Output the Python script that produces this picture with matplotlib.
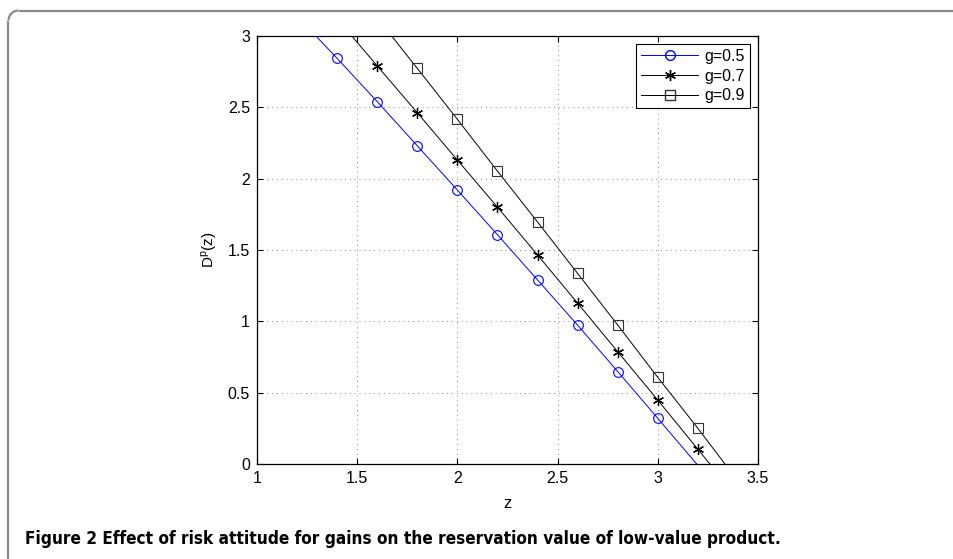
import matplotlib
matplotlib.use("Agg")
import matplotlib.pyplot as plt
from matplotlib.patches import Arc
from matplotlib.lines import Line2D

# ---- data ----
z_marks_05 = [1.4, 1.6, 1.8, 2.0, 2.2, 2.4, 2.6, 2.8, 3.0]
d_marks_05 = [2.843, 2.540, 2.230, 1.920, 1.607, 1.290, 0.973, 0.648, 0.320]
z_line_05 = [1.294, 1.4, 1.6, 1.8, 2.0, 2.2, 2.4, 2.6, 2.8, 3.0, 3.194]
d_line_05 = [3.0, 2.843, 2.540, 2.230, 1.920, 1.607, 1.290, 0.973, 0.648, 0.320, 0.0]

z_marks_07 = [1.6, 1.8, 2.0, 2.2, 2.4, 2.6, 2.8, 3.0, 3.2]
d_marks_07 = [2.790, 2.462, 2.130, 1.800, 1.465, 1.127, 0.787, 0.448, 0.103]
z_line_07 = [1.473, 1.6, 1.8, 2.0, 2.2, 2.4, 2.6, 2.8, 3.0, 3.2, 3.260]
d_line_07 = [3.0, 2.790, 2.462, 2.130, 1.800, 1.465, 1.127, 0.787, 0.448, 0.103, 0.0]

z_marks_09 = [1.8, 2.0, 2.2, 2.4, 2.6, 2.8, 3.0, 3.2]
d_marks_09 = [2.773, 2.416, 2.053, 1.696, 1.336, 0.974, 0.607, 0.250]
z_line_09 = [1.672, 1.8, 2.0, 2.2, 2.4, 2.6, 2.8, 3.0, 3.2, 3.335]
d_line_09 = [3.0, 2.773, 2.416, 2.053, 1.696, 1.336, 0.974, 0.607, 0.250, 0.0]

labels = ["g=0.5", "g=0.7", "g=0.9"]
x_ticks = [1, 1.5, 2, 2.5, 3, 3.5]
y_ticks = [0, 0.5, 1, 1.5, 2, 2.5, 3]
x_label = "z"
y_label = r"D$^{\mathrm{p}}$(z)"
caption = "Figure 2 Effect of risk attitude for gains on the reservation value of low-value product."

plt.rcParams['font.family'] = ['Liberation Sans', 'DejaVu Sans']
plt.rcParams['mathtext.fontset'] = 'custom'
plt.rcParams['mathtext.rm'] = 'Liberation Sans'

W, H = 954, 559
fig = plt.figure(figsize=(W / 100, H / 100), dpi=100)

# frame: left edge and top edge with rounded top-left corner (pixel -> figure fraction)
r = 10
x0, ytop = 8.5, H - 10.5
fc = "#8a8a8a"
fig.add_artist(Line2D([x0 / W, x0 / W], [0, (ytop - r) / H], color=fc, lw=1.6,
                      transform=fig.transFigure, solid_capstyle='butt'))
fig.add_artist(Line2D([(x0 + r) / W, 1], [ytop / H, ytop / H], color=fc, lw=1.6,
                      transform=fig.transFigure, solid_capstyle='butt'))
fig.add_artist(Arc(((x0 + r) / W, (ytop - r) / H), 2 * r / W, 2 * r / H,
                   theta1=90, theta2=180, color=fc, lw=1.6,
                   transform=fig.transFigure))

ax = fig.add_axes([257 / W, 1 - 464 / H, (758 - 257) / W, (464 - 36) / H])

ax.plot(z_line_05, d_line_05, color=(0, 0, 1), lw=0.7)
ax.plot(z_marks_05, d_marks_05, ls='none', marker='o', ms=7, mfc='none',
        mec=(0, 0, 1), mew=0.8)
ax.plot(z_line_07, d_line_07, color='k', lw=0.7)
ax.plot(z_marks_07, d_marks_07, ls='none', marker=(6, 2, 0), ms=8, mfc='none',
        mec='k', mew=0.9)
ax.plot(z_line_09, d_line_09, color='k', lw=0.7)
ax.plot(z_marks_09, d_marks_09, ls='none', marker='s', ms=6.5, mfc='none',
        mec='#333333', mew=0.8)

ax.set_xlim(1, 3.5)
ax.set_ylim(0, 3)
ax.set_xticks(x_ticks)
ax.set_xticklabels([f"{t:g}" for t in x_ticks])
ax.set_yticks(y_ticks)
ax.set_yticklabels([f"{t:g}" for t in y_ticks])
ax.tick_params(direction='in', top=True, right=True, length=4, width=0.8,
               labelsize=11.5, pad=5)
ax.grid(True, ls=(0, (1, 4)), color='#888888', lw=0.7)
for s in ax.spines.values():
    s.set_linewidth(0.9)

ax.set_xlabel(x_label, fontsize=12, labelpad=7)
ax.set_ylabel(y_label, fontsize=11, labelpad=6)

handles = [
    Line2D([], [], color=(0, 0, 1), lw=0.7, marker='o', ms=7, mfc='none', mec=(0, 0, 1)),
    Line2D([], [], color='k', lw=0.7, marker=(6, 2, 0), ms=8, mfc='none', mec='k'),
    Line2D([], [], color='k', lw=0.7, marker='s', ms=6.5, mfc='none', mec='#333333'),
]
leg = ax.legend(handles, labels, loc='upper right', fontsize=11.5, fancybox=False,
                edgecolor='k', framealpha=1, borderaxespad=0.5, handlelength=3.6,
                handletextpad=0.4, labelspacing=0.3, borderpad=0.3)
leg.get_frame().set_linewidth(0.8)

fig.text(25 / W, 1 - 544 / H, caption, fontsize=12.3, fontweight='bold',
         family='DejaVu Sans', fontstretch='condensed', va='baseline', ha='left')

fig.savefig("out.png", dpi=100)
